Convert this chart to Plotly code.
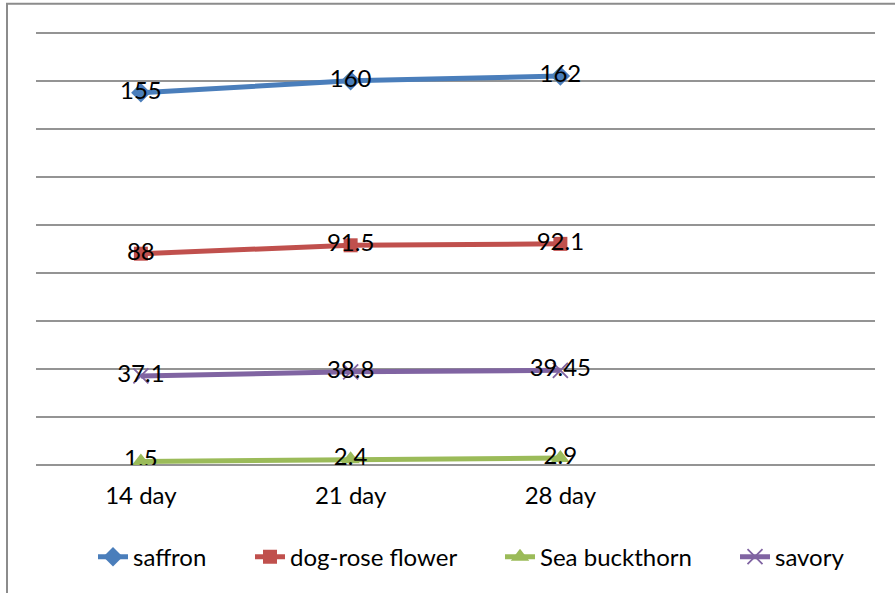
import plotly.graph_objects as go

categories = ["14 day", "21 day", "28 day"]
saffron = [155, 160, 162]
dog_rose = [88, 91.5, 92.1]
sea_buckthorn = [1.5, 2.4, 2.9]
savory = [37.1, 38.8, 39.45]

series = [
    ("saffron", saffron, "#4A7EBB", "diamond", 15, 0),
    ("dog-rose flower", dog_rose, "#C0504D", "square", 14, 0),
    ("Sea buckthorn", sea_buckthorn, "#9BBB59", "triangle-up", 16, 0),
    ("savory", savory, "#8064A2", "x-thin", 15, 1.8),
]
legend_text_px = [133, 290, 540, 775]

FONT = "Lato"
W, H = 895, 593
YMAX = 182
L, R = 36, 20
B = H - 465
T = 465 - YMAX * 2.4
pw = W - L - R
ph = H - T - B

fig = go.Figure()
legend_layouts = {}
for i, (name, vals, color, sym, size, lw) in enumerate(series):
    mk = dict(symbol=sym, size=size, color=color)
    if sym == "x-thin":
        mk["line"] = dict(color=color, width=lw)
    lname = "legend" if i == 0 else f"legend{i + 1}"
    fig.add_trace(go.Scatter(
        x=categories, y=vals, name=name, legend=lname,
        mode="lines+markers+text",
        line=dict(color=color, width=5),
        marker=mk,
        text=[str(v) for v in vals],
        textposition="middle center",
        textfont=dict(family=FONT, size=24, color="black"),
    ))
    legend_layouts[lname] = dict(
        orientation="h", x=(legend_text_px[i] - 40 - L) / pw, xanchor="left",
        y=-(557 - 465) / ph, yanchor="middle",
        font=dict(family=FONT, size=24, color="black"), itemwidth=30,
        bgcolor="rgba(0,0,0,0)",
    )

fig.update_layout(
    width=W, height=H,
    margin=dict(l=L, r=R, t=T, b=B, autoexpand=False),
    paper_bgcolor="white", plot_bgcolor="white",
    font=dict(family=FONT, size=24, color="black"),
    showlegend=True,
    xaxis=dict(type="category", range=[-0.5, 3.5], showgrid=False, zeroline=False,
               showline=False, ticks="", ticklabelstandoff=14, automargin=False,
               tickfont=dict(family=FONT, size=24, color="black")),
    yaxis=dict(range=[0, YMAX], dtick=20, showgrid=True, gridcolor="#949494", gridwidth=2,
               zeroline=True, zerolinecolor="#949494", zerolinewidth=2, automargin=False,
               showticklabels=False, ticks="", showline=False),
    shapes=[dict(type="rect", xref="paper", yref="paper",
                 x0=(7 - L) / pw, x1=(W + 5 - L) / pw,
                 y0=-(H + 5 - 465) / ph, y1=(465 - 4) / ph,
                 line=dict(color="#8c8c8c", width=2), fillcolor="rgba(0,0,0,0)", layer="below")],
    **legend_layouts,
)

fig.write_html("out.html", config={"displayModeBar": False},
               post_script="document.body.style.margin='0';document.body.style.overflow='hidden';")
